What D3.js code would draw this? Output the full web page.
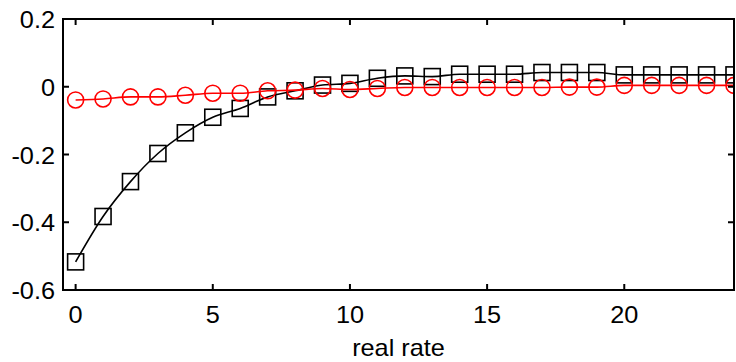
<!DOCTYPE html>
<html><head><meta charset="utf-8">
<script src="https://cdn.jsdelivr.net/npm/d3@7"></script>
<style>body{margin:0;background:#fff}svg{display:block}text{font-family:"Liberation Sans",Arial,sans-serif}</style>
</head><body>
<svg id="c" width="736" height="362"></svg>
<script>
const periods = d3.range(0, 25);
const blackSeries = [-0.517,-0.383,-0.280,-0.197,-0.136,-0.090,-0.064,-0.030,-0.012,0.005,0.010,0.025,0.032,0.030,0.037,0.037,0.037,0.042,0.042,0.042,0.035,0.035,0.035,0.035,0.035];
const redSeries = [-0.039,-0.036,-0.030,-0.030,-0.025,-0.019,-0.019,-0.012,-0.010,-0.005,-0.008,-0.005,-0.002,-0.002,-0.002,-0.002,-0.002,-0.002,-0.001,-0.001,0.004,0.004,0.004,0.004,0.004];
const xTicks = [0,5,10,15,20];
const yTicks = [-0.6,-0.4,-0.2,0,0.2];
const xLabel = "real rate";

const L=63, R=734, T=19, B=290;
const svg = d3.select("#c");
const x = d3.scaleLinear().domain([-0.46,24]).range([L,R]);
const y = d3.scaleLinear().domain([-0.6,0.2]).range([B,T]);

svg.append("clipPath").attr("id","clip").append("rect").attr("x",L).attr("y",T).attr("width",R-L).attr("height",B-T);
const g = svg.append("g").attr("clip-path","url(#clip)");

const line = d3.line().x((d,i)=>x(periods[i])).y(d=>y(d)).curve(d3.curveMonotoneX);
g.append("path").datum(blackSeries).attr("d",line).attr("fill","none").attr("stroke","#000").attr("stroke-width",1.6);
const S=16;
g.selectAll("rect.sq").data(blackSeries).join("rect").attr("class","sq")
  .attr("x",(d,i)=>x(periods[i])-S/2).attr("y",d=>y(d)-S/2).attr("width",S).attr("height",S)
  .attr("fill","none").attr("stroke","#000").attr("stroke-width",1.6);
g.append("path").datum(redSeries).attr("d",line).attr("fill","none").attr("stroke","#f00").attr("stroke-width",1.6);
g.selectAll("circle.ci").data(redSeries).join("circle").attr("class","ci")
  .attr("cx",(d,i)=>x(periods[i])).attr("cy",d=>y(d)).attr("r",8)
  .attr("fill","none").attr("stroke","#f00").attr("stroke-width",1.6);

const ax = svg.append("g").attr("stroke","#000").attr("stroke-width",2).attr("fill","none");
ax.append("rect").attr("x",L).attr("y",T).attr("width",R-L).attr("height",B-T);
const tl=6;
xTicks.forEach(t=>{
  ax.append("line").attr("x1",x(t)).attr("x2",x(t)).attr("y1",B).attr("y2",B-tl);
  ax.append("line").attr("x1",x(t)).attr("x2",x(t)).attr("y1",T).attr("y2",T+tl);
});
yTicks.forEach(t=>{
  ax.append("line").attr("x1",L).attr("x2",L+tl).attr("y1",y(t)).attr("y2",y(t));
  ax.append("line").attr("x1",R).attr("x2",R-tl).attr("y1",y(t)).attr("y2",y(t));
});
const fs=23, sx=1.1;
const tr=(px,py)=>`translate(${px},${py}) scale(${sx},1)`;
svg.append("g").selectAll("text").data(xTicks).join("text")
  .attr("transform",d=>tr(x(d),B+33)).attr("text-anchor","middle").attr("font-size",fs).text(d=>String(d));
svg.append("g").selectAll("text").data(yTicks).join("text")
  .attr("transform",d=>tr(L-8,y(d)+9)).attr("text-anchor","end").attr("font-size",fs).text(d=>d===0?"0":d.toFixed(1));
svg.append("text").attr("transform",tr((L+R)/2,356)).attr("text-anchor","middle").attr("font-size",fs).text(xLabel);
</script>
</body></html>
